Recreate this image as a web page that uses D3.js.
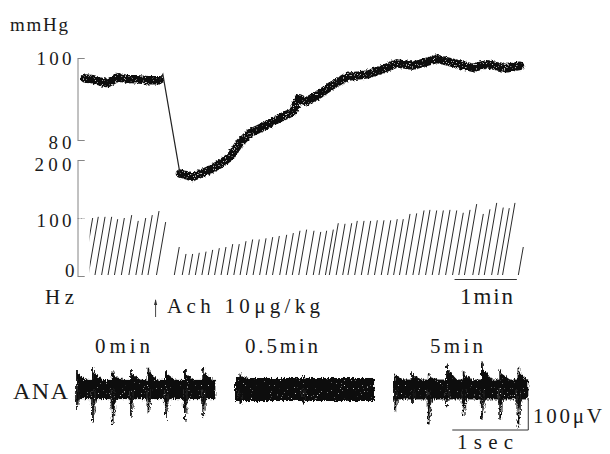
<!DOCTYPE html>
<html><head><meta charset="utf-8">
<script src="https://cdn.jsdelivr.net/npm/d3@7"></script>
<style>
html,body{margin:0;padding:0;background:#fff;}
svg{display:block;}
svg text{font-family:"Liberation Serif","Times New Roman","DejaVu Serif",serif;}
</style></head><body>
<svg id="chart" width="610" height="454"></svg>
<script>
// ---------------- data ----------------
const bpTicks = [80, 100];
const hzTicks = [0, 100, 200];
// blood pressure (time in s, mmHg)
const bpPreTime  = [0, 8, 17, 22, 32, 40, 50, 60, 72];
const bpPreValue = [95.0, 94.8, 94.1, 93.9, 95.3, 94.9, 94.8, 94.6, 94.6];
const bpDropTime  = [72, 75, 91.5];
const bpDropValue = [94.6, 96.0, 71.8];
const bpPostTime  = [91.5, 104, 117.5, 130, 140, 149, 159, 171.5, 188, 200, 206, 213, 226, 236, 252, 272, 287, 300.5, 316, 339, 351.6, 374, 387, 406.5, 419];
const bpPostValue = [71.8, 71.0, 72.4, 74.1, 75.9, 79.3, 81.7, 83.2, 85.4, 86.8, 90.2, 89.4, 91.2, 93.0, 95.4, 96.0, 97.3, 98.7, 98.1, 99.8, 99.0, 97.6, 98.5, 97.5, 98.1];
// nerve discharge rate meter (time of each sweep peak in s, Hz)
const hzTime = [7.4, 12.8, 19.3, 25.7, 31.5, 37.9, 45.0, 51.3, 58.5, 64.8, 71.3, 77.7,
  90.8, 97.3, 103.7, 110.1, 116.6, 123.0, 129.4, 135.8, 142.3, 148.6, 155.1, 161.5, 167.9, 174.4, 180.8, 187.2, 194.3, 200.7, 207.1, 213.5,
  220.6, 227.1, 232.8, 239.2, 244.0, 250.5, 256.9, 262.3, 268.8, 275.2, 281.6, 288.0, 294.5, 300.8, 306.6, 313.1, 319.5, 326.6, 332.3, 338.8,
  345.2, 351.6, 358.1, 364.4, 370.9, 377.3, 383.7, 390.1, 396.6, 402.9, 408.7, 414.2, 422.2];
const hzRate = [100, 102, 102, 102, 98, 100, 105, 95, 100, 105, 112, 93,
  50, 38, 38, 40, 42, 45, 48, 50, 55, 55, 60, 63, 63, 65, 67, 69, 71, 74, 78, 80,
  78, 76, 78, 80, 91, 90, 91, 95, 95, 95, 96, 96, 96, 98, 98, 107, 108, 113, 114, 113,
  113, 114, 113, 109, 114, 124, 107, 115, 126, 118, 117, 126, 50];
const hzStart = 4.5;
const achTime = 68;
const achLabel = "Ach 10\u03bcg/kg";
const timeBarSec = [356, 416];
// ANA traces (time in s within trace, amplitude in μV)
const anaLabels = ["0min", "0.5min", "5min"];
const anaDuration = [1.82, 1.83, 1.78];
const anaNoise = [30, 36, 31];
const anaSpikeTime = [[0.00, 0.21, 0.47, 0.71, 0.94, 1.17, 1.42, 1.66], [0.07, 0.90], [0.03, 0.25, 0.47, 0.71, 0.93, 1.17, 1.41, 1.65]];
const anaSpikeUp   = [[61, 68, 56, 61, 68, 61, 61, 67], [50, 42], [50, 57, 48, 78, 57, 84, 63, 69]];
const anaSpikeDown = [[64, 100, 111, 85, 73, 95, 100, 89], [45, 44], [68, 42, 109, 52, 83, 94, 94, 119]];

// ---------------- drawing ----------------
const svg = d3.select("#chart");
const defs = svg.append("defs");
defs.html(`
<filter id="bpTex" x="-5%" y="-20%" width="110%" height="140%">
  <feTurbulence type="fractalNoise" baseFrequency="0.45" numOctaves="2" seed="3" result="n"/>
  <feDisplacementMap in="SourceGraphic" in2="n" scale="3.5" xChannelSelector="R" yChannelSelector="G" result="d"/>
  <feTurbulence type="fractalNoise" baseFrequency="0.9" numOctaves="1" seed="9" result="n2"/>
  <feColorMatrix in="n2" type="matrix" values="0 0 0 0 0.6  0 0 0 0 0.6  0 0 0 0 0.6  -10 0 0 0 3.7" result="s"/>
  <feComposite in="s" in2="d" operator="in" result="si"/>
  <feMerge><feMergeNode in="d"/><feMergeNode in="si"/></feMerge>
</filter>
<filter id="anaTex" x="-3%" y="-30%" width="106%" height="160%">
  <feTurbulence type="fractalNoise" baseFrequency="0.9 0.25" numOctaves="2" seed="5" result="n"/>
  <feDisplacementMap in="SourceGraphic" in2="n" scale="5" xChannelSelector="R" yChannelSelector="G" result="d"/>
  <feTurbulence type="fractalNoise" baseFrequency="1.3 0.6" numOctaves="1" seed="11" result="n2"/>
  <feColorMatrix in="n2" type="matrix" values="0 0 0 0 0.7  0 0 0 0 0.7  0 0 0 0 0.7  -14 0 0 0 4.1" result="s"/>
  <feComposite in="s" in2="d" operator="in" result="si"/>
  <feMerge><feMergeNode in="d"/><feMergeNode in="si"/></feMerge>
</filter>`);

const ink = "#1a1a1a";
const x = d3.scaleLinear().domain([0, 425]).range([85, 85 + 425 * 1.0381]);
const yBP = d3.scaleLinear().domain([80, 100]).range([140, 58]);
const yHz = d3.scaleLinear().domain([0, 200]).range([276, 160]);
const axisX = 77.5;

function styleAxis(g, lens, dys, dxs) {
  g.attr("font-family", null).attr("font-size", null);
  g.select(".domain").attr("stroke", "#777").attr("stroke-width", 0.9);
  g.selectAll(".tick line").attr("stroke", "#888").attr("stroke-width", 0.8).attr("stroke-dasharray", "2,1");
  g.selectAll(".tick text")
    .attr("fill", ink).attr("font-size", 19)
    .attr("dy", d => dys[d]).attr("dx", d => dxs[d] || 0)
    .attr("textLength", d => lens[d]).attr("lengthAdjust", "spacing");
}

svg.append("g").attr("transform", `translate(${axisX},0)`)
  .call(d3.axisLeft(yBP).tickValues(bpTicks).tickSizeInner(-7).tickSizeOuter(-7).tickPadding(6).tickFormat(d3.format("d")))
  .call(g => styleAxis(g, {80: 23, 100: 35}, {80: 8.5, 100: 6.5}, {}));

svg.append("g").attr("transform", `translate(${axisX},0)`)
  .call(d3.axisLeft(yHz).tickValues(hzTicks).tickSizeInner(-7).tickSizeOuter(-7).tickPadding(6).tickFormat(d3.format("d")))
  .call(g => styleAxis(g, {0: 13, 100: 35, 200: 37}, {0: 0, 100: 8.5, 200: 10.5}, {0: 3}));

// rate meter sweeps
defs.append("clipPath").attr("id", "hzClip").append("rect")
  .attr("x", x(hzStart)).attr("y", 140).attr("width", 500).attr("height", 150);
const slant = 0.17;
svg.append("g").attr("clip-path", "url(#hzClip)")
  .selectAll("line").data(hzTime.map((t, i) => ({t, r: hzRate[i]}))).join("line")
  .attr("x1", d => x(d.t) - slant * (yHz(0) - yHz(d.r)))
  .attr("y1", yHz(0) - 1)
  .attr("x2", d => x(d.t))
  .attr("y2", d => yHz(d.r))
  .attr("stroke", "#2a2a2a").attr("stroke-width", 1);

// blood pressure
const bpLine = d3.line().x(d => x(d[0])).y(d => yBP(d[1]));
const zip = (a, b) => a.map((v, i) => [v, b[i]]);
const bpG = svg.append("g").attr("filter", "url(#bpTex)");
[zip(bpPreTime, bpPreValue), zip(bpPostTime, bpPostValue)].forEach(seg => {
  bpG.append("path").attr("d", bpLine(seg)).attr("fill", "none")
    .attr("stroke", "#111").attr("stroke-width", 8.5).attr("stroke-linejoin", "round").attr("stroke-linecap", "round");
});
svg.append("path").attr("d", bpLine(zip(bpDropTime, bpDropValue))).attr("fill", "none")
  .attr("stroke", "#222").attr("stroke-width", 1.2);

// text labels
function label(txt, px, py, size, len, anchor) {
  svg.append("text").attr("x", px).attr("y", py).attr("font-size", size)
    .attr("fill", ink).attr("text-anchor", anchor || "start")
    .attr("textLength", len).attr("lengthAdjust", "spacing").text(txt);
}
label("mmHg", 10, 31, 19, 58);
label("Hz", 45, 304, 21, 29);
label(achLabel, 167, 313, 21, 153);

// Ach arrow
const ax = x(achTime);
svg.append("line").attr("x1", ax).attr("x2", ax).attr("y1", 300).attr("y2", 317).attr("stroke", "#333").attr("stroke-width", 0.9);
svg.append("path").attr("d", `M${ax},299 L${ax - 1.6},305 L${ax + 1.6},305 Z`).attr("fill", "#333");

// 1 min bar
svg.append("line").attr("x1", x(timeBarSec[0])).attr("x2", x(timeBarSec[1]))
  .attr("y1", 279.5).attr("y2", 279.5).attr("stroke", "#333").attr("stroke-width", 1);
label("1min", 460, 303.5, 23, 53);

// ANA traces
const anaX0 = [77, 235, 393];
const pxPerSec = 76;
const yUV = d3.scaleLinear().domain([-150, 150]).range([389.5 + 48, 389.5 - 48]);
label("ANA", 13, 399, 24, 55);
const anaLabelX = [95, 245, 430];
const anaLabelLen = [55, 73, 53];

anaLabels.forEach((lab, k) => {
  const xs = d3.scaleLinear().domain([0, 1]).range([anaX0[k], anaX0[k] + pxPerSec]);
  const g = svg.append("g").attr("filter", "url(#anaTex)");
  const n = anaNoise[k];
  g.append("rect").attr("x", xs(0)).attr("width", xs(anaDuration[k]) - xs(0))
    .attr("y", yUV(n)).attr("height", yUV(-n) - yUV(n)).attr("fill", "#0a0a0a");
  const spikes = anaSpikeTime[k].map((t, i) => ({t, up: anaSpikeUp[k][i], dn: anaSpikeDown[k][i]}));
  g.selectAll("path.sc").data(spikes).join("path").attr("class", "sc")
    .attr("d", d => `M${xs(d.t)},${yUV(n - 2)} L${xs(d.t)},${yUV(d.up * 0.84)} L${Math.min(xs(d.t + 0.14), xs(anaDuration[k]))},${yUV(n - 2)} Z`)
    .attr("fill", "#0a0a0a");
  g.selectAll("path.sd").data(spikes).join("path").attr("class", "sd")
    .attr("d", d => `M${xs(d.t - 0.03)},${yUV(-n + 2)} L${xs(d.t)},${yUV(-d.dn * 0.6)} L${xs(d.t + 0.05)},${yUV(-n + 2)} Z`)
    .attr("fill", "#111");
  g.selectAll("line.up").data(spikes).join("line").attr("class", "up")
    .attr("x1", d => xs(d.t)).attr("x2", d => xs(d.t))
    .attr("y1", d => yUV(d.up)).attr("y2", d => yUV(-d.dn))
    .attr("stroke", "#111").attr("stroke-width", 1.8);
  g.selectAll("line.d2").data(spikes).join("line").attr("class", "d2")
    .attr("x1", d => xs(d.t + 0.025)).attr("x2", d => xs(d.t + 0.025))
    .attr("y1", yUV(0)).attr("y2", d => yUV(-d.dn * 0.75))
    .attr("stroke", "#222").attr("stroke-width", 1.1);
  g.selectAll("line.d3").data(spikes).join("line").attr("class", "d3")
    .attr("x1", d => xs(d.t - 0.02)).attr("x2", d => xs(d.t - 0.02))
    .attr("y1", yUV(0)).attr("y2", d => yUV(-d.dn * 0.55))
    .attr("stroke", "#333").attr("stroke-width", 1);
  label(lab, anaLabelX[k], 353, 21, anaLabelLen[k]);
});

// ANA scale bars
const xEnd = anaX0[2] + anaDuration[2] * pxPerSec;
const barBottom = 430;
const barH = yUV(0) - yUV(100);
svg.append("path")
  .attr("d", `M${xEnd - pxPerSec},${barBottom} H${xEnd} V${barBottom - barH}`)
  .attr("fill", "none").attr("stroke", "#333").attr("stroke-width", 1);
label("100\u03bcV", 533, 423, 21, 69);
label("1sec", 457, 449, 21, 56);
</script>
</body></html>
